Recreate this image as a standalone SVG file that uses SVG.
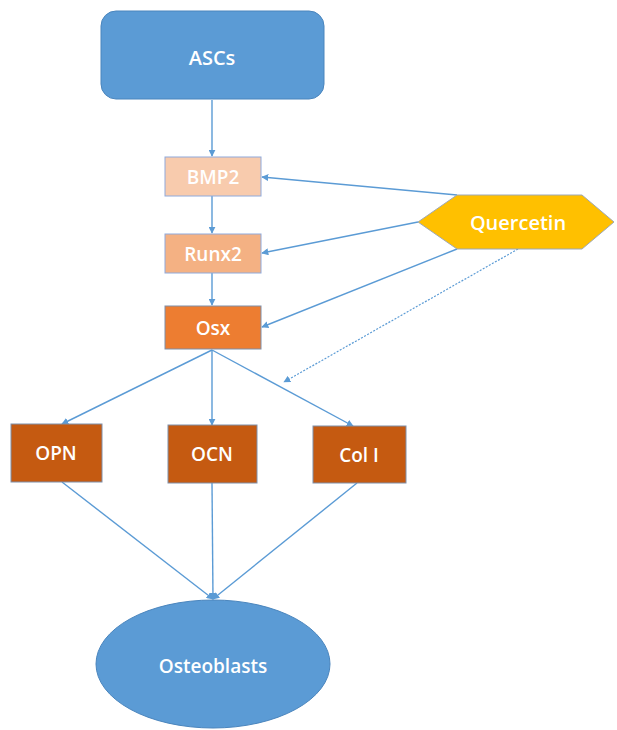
<svg xmlns="http://www.w3.org/2000/svg" width="617" height="730" viewBox="0 0 617 730">
<style>
.lbl{font-family:"Open Sans","Liberation Sans",sans-serif;fill:#ffffff;text-anchor:middle;dominant-baseline:central;font-weight:600}
.c{stroke:#5B9BD5;stroke-width:1.4;fill:none;marker-end:url(#ah)}
.d{stroke-dasharray:2 1.5;stroke-width:1.2}
</style>
<defs>
<marker id="ah" viewBox="0 0 10 10" refX="9" refY="5" markerWidth="7" markerHeight="7" orient="auto" markerUnits="userSpaceOnUse">
<path d="M0,0 L10,5 L0,10 z" fill="#5B9BD5"/>
</marker>
</defs>
<rect width="617" height="730" fill="#ffffff"/>
<g id="connectors">
<line class="c" x1="212" y1="100" x2="212" y2="156"/>
<line class="c" x1="212" y1="196" x2="212" y2="233"/>
<line class="c" x1="212" y1="273" x2="212" y2="305"/>
<line class="c" x1="457" y1="195" x2="262" y2="177"/>
<line class="c" x1="418" y1="222" x2="262" y2="253"/>
<line class="c" x1="457" y1="249" x2="262" y2="327"/>
<line class="c d" x1="518" y1="249" x2="284" y2="382"/>
<line class="c" x1="212" y1="350" x2="62" y2="424"/>
<line class="c" x1="212" y1="350" x2="212" y2="425"/>
<line class="c" x1="212" y1="350" x2="353" y2="426"/>
<line class="c" x1="62" y1="482" x2="213" y2="599"/>
<line class="c" x1="212" y1="483" x2="213" y2="599"/>
<line class="c" x1="357" y1="483" x2="213" y2="599"/>
</g>
<g id="ASCs">
<rect x="101" y="11" width="223" height="88" rx="15" fill="#5B9BD5" stroke="#4A85BD" stroke-width="1"/>
<text class="lbl" x="212" y="57" font-size="20">ASCs</text>
</g>
<g id="BMP2">
<rect x="165" y="157" width="96" height="39" fill="#F8CBAD" stroke="#8FAADC" stroke-width="1"/>
<text class="lbl" x="213" y="177" font-size="19">BMP2</text>
</g>
<g id="Runx2">
<rect x="165" y="234" width="96" height="39" fill="#F4B183" stroke="#8FAADC" stroke-width="1"/>
<text class="lbl" x="213" y="254" font-size="19">Runx2</text>
</g>
<g id="Osx">
<rect x="165" y="306" width="96" height="43" fill="#ED7D31" stroke="#7F8FA9" stroke-width="1"/>
<text class="lbl" x="213" y="328" font-size="19">Osx</text>
</g>
<g id="Quercetin">
<polygon points="418,222 457,195 582,195 614,222 582,249 457,249" fill="#FFC000" stroke="#9DA8B8" stroke-width="1"/>
<text class="lbl" x="518" y="222" font-size="20">Quercetin</text>
</g>
<g id="OPN">
<rect x="11" y="424" width="91" height="58" fill="#C55A11" stroke="#7F8FA9" stroke-width="1"/>
<text class="lbl" x="56" y="453" font-size="19">OPN</text>
</g>
<g id="OCN">
<rect x="168" y="425" width="89" height="58" fill="#C55A11" stroke="#7F8FA9" stroke-width="1"/>
<text class="lbl" x="212" y="454" font-size="19">OCN</text>
</g>
<g id="ColI">
<rect x="313" y="426" width="93" height="57" fill="#C55A11" stroke="#7F8FA9" stroke-width="1"/>
<text class="lbl" x="359" y="455" font-size="19">Col I</text>
</g>
<g id="Osteoblasts">
<ellipse cx="213" cy="664" rx="117" ry="64" fill="#5B9BD5" stroke="#4A85BD" stroke-width="1"/>
<text class="lbl" x="213" y="666" font-size="19">Osteoblasts</text>
</g>
</svg>
